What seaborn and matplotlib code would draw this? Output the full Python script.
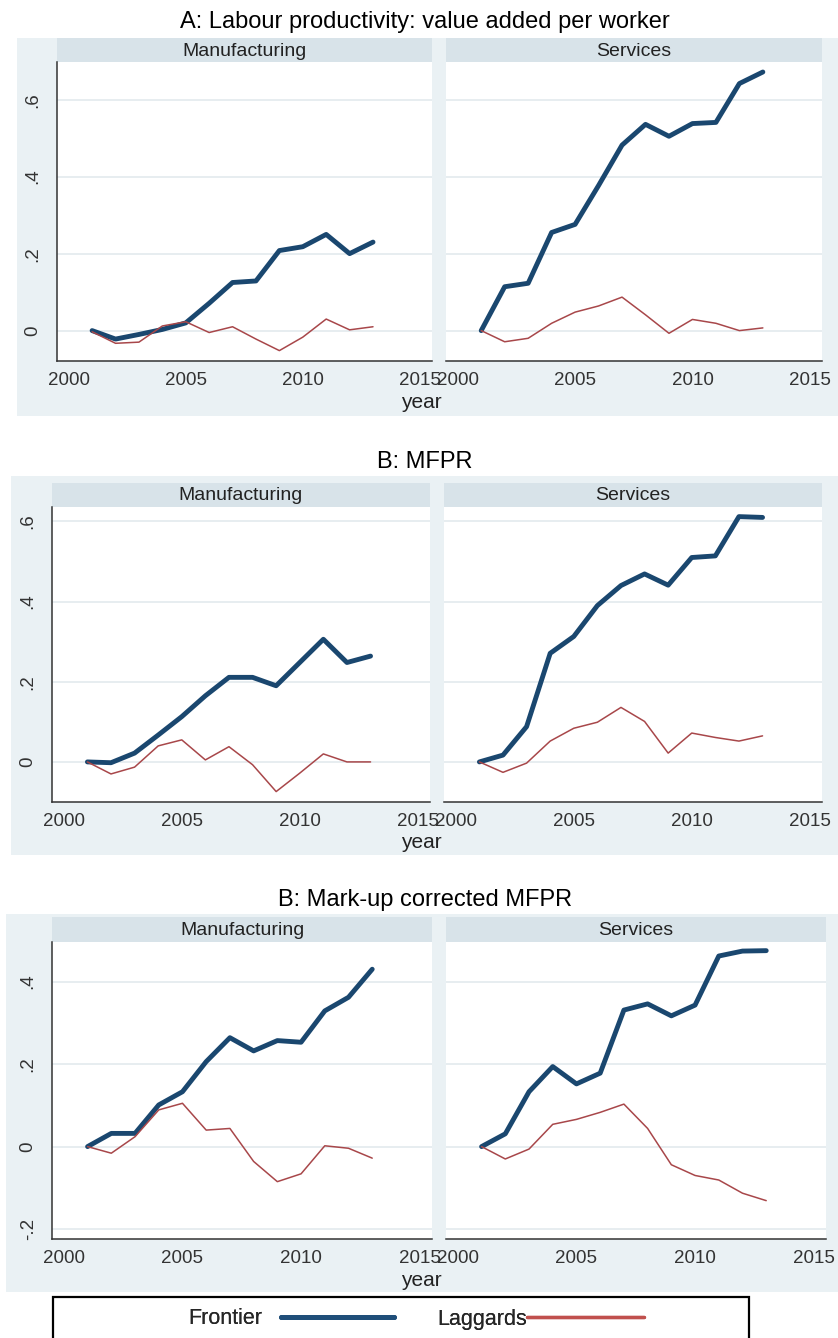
import numpy as np
import pandas as pd
import matplotlib
matplotlib.use("Agg")
import matplotlib.pyplot as plt
from matplotlib.patches import Rectangle
from matplotlib.lines import Line2D
import seaborn as sns

# --- Datos ---
years = list(range(2001, 2014))

# A: Labour productivity
lp_mfg_frontier = [0.0, -0.022, -0.010, 0.003, 0.020, 0.071, 0.125, 0.129, 0.208, 0.218, 0.250, 0.200, 0.230]
lp_mfg_laggards = [-0.003, -0.033, -0.030, 0.012, 0.023, -0.005, 0.010, -0.022, -0.052, -0.017, 0.030, 0.002, 0.010]
lp_srv_frontier = [0.0, 0.114, 0.123, 0.255, 0.276, 0.377, 0.482, 0.536, 0.505, 0.538, 0.541, 0.642, 0.672]
lp_srv_laggards = [0.0, -0.029, -0.020, 0.019, 0.048, 0.064, 0.087, 0.041, -0.007, 0.029, 0.019, 0.000, 0.007]

# B: MFPR
mf_mfg_frontier = [0.0, -0.002, 0.022, 0.067, 0.113, 0.165, 0.211, 0.211, 0.190, 0.248, 0.306, 0.248, 0.264]
mf_mfg_laggards = [0.0, -0.030, -0.013, 0.040, 0.055, 0.005, 0.038, -0.007, -0.074, -0.028, 0.020, 0.000, 0.000]
mf_srv_frontier = [0.0, 0.017, 0.088, 0.271, 0.313, 0.390, 0.440, 0.469, 0.441, 0.510, 0.514, 0.612, 0.610]
mf_srv_laggards = [0.0, -0.026, -0.003, 0.052, 0.084, 0.099, 0.136, 0.101, 0.022, 0.072, 0.061, 0.052, 0.065]

# C: Mark-up corrected MFPR
mc_mfg_frontier = [0.0, 0.032, 0.032, 0.101, 0.133, 0.206, 0.264, 0.232, 0.257, 0.253, 0.329, 0.362, 0.430]
mc_mfg_laggards = [0.0, -0.016, 0.024, 0.089, 0.105, 0.040, 0.044, -0.036, -0.085, -0.066, 0.002, -0.004, -0.028]
mc_srv_frontier = [0.0, 0.031, 0.133, 0.194, 0.152, 0.178, 0.331, 0.346, 0.317, 0.343, 0.462, 0.474, 0.475]
mc_srv_laggards = [0.0, -0.030, -0.006, 0.054, 0.066, 0.083, 0.103, 0.044, -0.044, -0.070, -0.081, -0.113, -0.131]

titles = ["A: Labour productivity: value added per worker", "B: MFPR", "B: Mark-up corrected MFPR"]
sectors = ["Manufacturing", "Services"]
groups = ["Frontier", "Laggards"]
xticks = [2000, 2005, 2010, 2015]
yticks_a = [0, 0.2, 0.4, 0.6]
yticks_b = [0, 0.2, 0.4, 0.6]
yticks_c = [-0.2, 0, 0.2, 0.4]
ylabels_a = ["0", ".2", ".4", ".6"]
ylabels_b = ["0", ".2", ".4", ".6"]
ylabels_c = ["-.2", "0", ".2", ".4"]

# --- Estilo ---
sns.set_style("white")
plt.rcParams['font.family'] = ['Liberation Sans', 'DejaVu Sans']

BG = "#eaf1f4"
HEAD = "#d8e3e9"
NAVY = "#1a476f"
RED = "#a8474a"
palette = {"Frontier": NAVY, "Laggards": RED}
sizes = {"Frontier": 3.5, "Laggards": 1.1}

W, H = 838, 1338
fig = plt.figure(figsize=(W / 100, H / 100), dpi=100)
fig.patch.set_facecolor("white")


def fx(x):
    return x / W


def fy(y):
    return 1 - y / H


def add_rect(x0, y0, x1, y1, color, edge="none", lw=0, z=-1):
    fig.add_artist(Rectangle((fx(x0), fy(y1)), fx(x1) - fx(x0), fy(y0) - fy(y1),
                             transform=fig.transFigure, facecolor=color,
                             edgecolor=edge, linewidth=lw, zorder=z))


def long_df(frontier, laggards):
    return pd.DataFrame({
        "year": years * 2,
        "value": frontier + laggards,
        "group": ["Frontier"] * len(years) + ["Laggards"] * len(years),
    })


# Posiciones en pixeles de cada bloque
panels = [
    dict(title_y=22, bg=(17, 38, 838, 416), head=(38, 62), bottom=361,
         xs=[(57, 432), (446, 822)], ylim=(-0.079, 0.698), yticks=yticks_a, ylabels=ylabels_a,
         xlabel_y=403,
         data=[long_df(lp_mfg_frontier, lp_mfg_laggards), long_df(lp_srv_frontier, lp_srv_laggards)]),
    dict(title_y=462, bg=(11, 476, 838, 855), head=(483, 507), bottom=802,
         xs=[(52, 430), (444, 822)], ylim=(-0.100, 0.636), yticks=yticks_b, ylabels=ylabels_b,
         xlabel_y=843,
         data=[long_df(mf_mfg_frontier, mf_mfg_laggards), long_df(mf_srv_frontier, mf_srv_laggards)]),
    dict(title_y=900, bg=(6, 914, 838, 1292), head=(917, 942), bottom=1239,
         xs=[(52, 432), (446, 826)], ylim=(-0.224, 0.496), yticks=yticks_c, ylabels=ylabels_c,
         xlabel_y=1280,
         data=[long_df(mc_mfg_frontier, mc_mfg_laggards), long_df(mc_srv_frontier, mc_srv_laggards)]),
]

for title, p in zip(titles, panels):
    add_rect(*p["bg"], BG)
    fig.text(fx(425), fy(p["title_y"]), title, ha="center", va="center", fontsize=17, color="black")
    top = p["head"][1]
    for i, ((x0, x1), df) in enumerate(zip(p["xs"], p["data"])):
        add_rect(x0, p["head"][0], x1, top, HEAD, z=0)
        fig.text(fx((x0 + x1) / 2), fy((p["head"][0] + top) / 2 + 1), sectors[i],
                 ha="center", va="center", fontsize=14, color="#222222")
        ax = fig.add_axes([fx(x0), fy(p["bottom"]), fx(x1) - fx(x0), fy(top) - fy(p["bottom"])])
        ax.set_facecolor("white")
        for yv in p["yticks"]:
            ax.axhline(yv, color="#e7edf0", lw=1.4, zorder=0)
        sns.lineplot(data=df, x="year", y="value", hue="group", size="group",
                     palette=palette, sizes=sizes, legend=False, ax=ax,
                     hue_order=groups, size_order=groups)
        ax.set_xlim(1999.5, 2015.52)
        ax.set_ylim(*p["ylim"])
        ax.set_xticks(xticks)
        ax.set_xticklabels([str(x) for x in xticks], fontsize=13.5, color="#333333")
        ax.set_yticks(p["yticks"])
        ax.tick_params(axis="both", direction="out", length=5, width=1, color="#333333", pad=3)
        if i == 0:
            ax.set_yticklabels(p["ylabels"], fontsize=13.5, color="#333333", rotation=90, va="center")
            ax.tick_params(axis="y", pad=6)
        else:
            ax.set_yticklabels([])
            ax.tick_params(axis="y", length=0)
            ax.spines["left"].set_visible(False)
        ax.set_xlabel("")
        ax.set_ylabel("")
        for s in ["top", "right"]:
            ax.spines[s].set_visible(False)
        for s in ["left", "bottom"]:
            ax.spines[s].set_color("#333333")
            ax.spines[s].set_linewidth(1.1)
    fig.text(fx(421), fy(p["xlabel_y"]), "year", ha="center", va="center", fontsize=15, color="#222222")

# --- Leyenda (dos entradas, texto antes de la linea) ---
add_rect(53, 1297, 749, 1345, "white", edge="black", lw=1.6, z=1)
leg_handles = [Line2D([], [], color="#1f4e79", lw=3.6), Line2D([], [], color="#c0504d", lw=2.4)]
leg_x = [188, 437]
leg_pad = [0.9, 0.0]
leg_len = [5.25, 5.45]
for h, lab, x, pad, ln in zip(leg_handles, groups, leg_x, leg_pad, leg_len):
    leg = fig.legend([h], [lab], loc="center left", bbox_to_anchor=(fx(x), fy(1319)),
                     frameon=False, markerfirst=False, handlelength=ln, handletextpad=pad,
                     borderpad=0, borderaxespad=0, fontsize=15.5)
    fig.add_artist(leg)

fig.savefig("out.png", dpi=100)
